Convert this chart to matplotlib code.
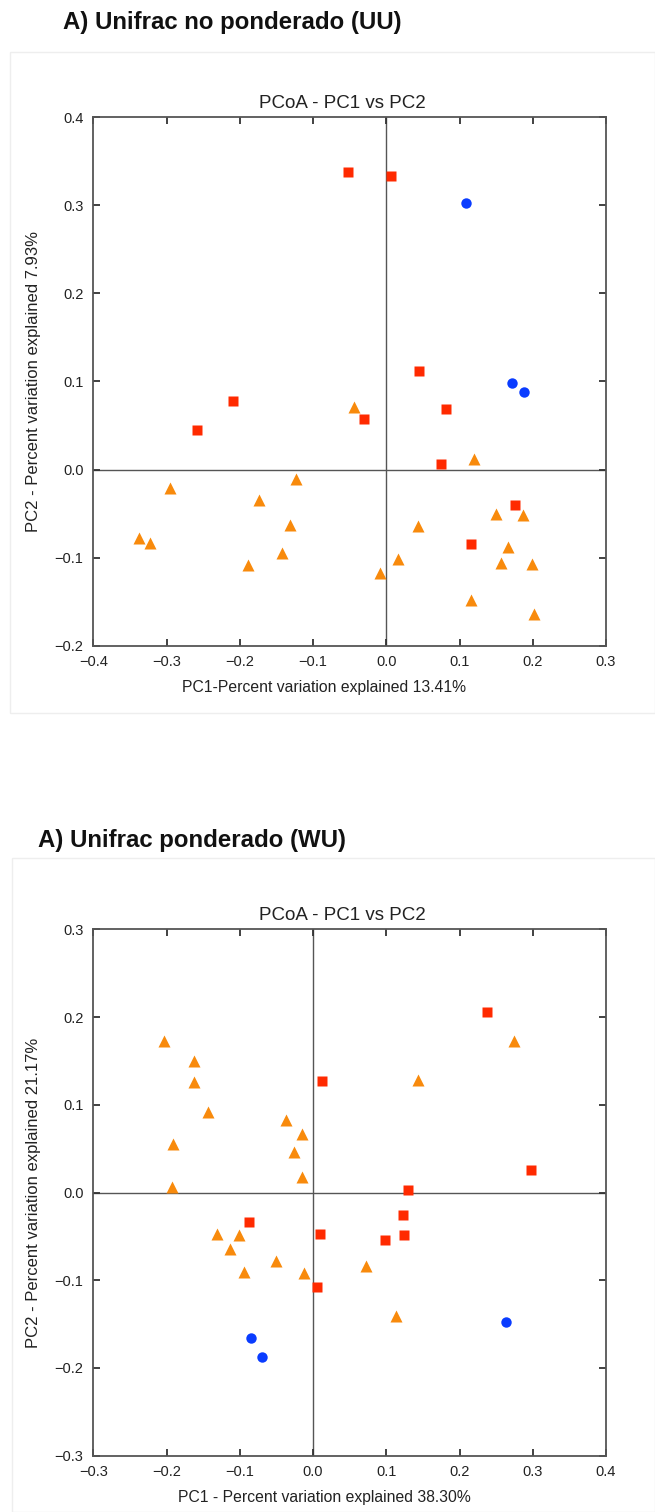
import matplotlib
matplotlib.use("Agg")
from matplotlib import pyplot as plt
from matplotlib.patches import Rectangle

# colours of the three sample groups
RED = "#ff2a00"
ORANGE = "#f88a0c"
BLUE = "#0a3cff"

# ---- A) Unifrac no ponderado (UU) ----
uu_sq_x = [-0.052, 0.007, 0.045, -0.209, -0.031, -0.258, 0.082, 0.075, 0.176, 0.115]
uu_sq_y = [0.338, 0.333, 0.112, 0.078, 0.057, 0.045, 0.069, 0.006, -0.040, -0.085]
uu_tri_x = [-0.044, 0.120, -0.295, -0.123, -0.174, -0.132, -0.337, -0.322, -0.142, -0.189,
            -0.009, 0.016, 0.044, 0.150, 0.187, 0.166, 0.156, 0.199, 0.116, 0.202]
uu_tri_y = [0.071, 0.012, -0.021, -0.011, -0.035, -0.063, -0.078, -0.083, -0.095, -0.108,
            -0.117, -0.102, -0.064, -0.051, -0.052, -0.088, -0.106, -0.107, -0.148, -0.164]
uu_dot_x = [0.109, 0.171, 0.188]
uu_dot_y = [0.303, 0.098, 0.088]

# ---- A) Unifrac ponderado (WU) ----
wu_sq_x = [0.238, 0.012, 0.297, 0.129, 0.123, -0.088, 0.009, 0.124, 0.098, 0.006]
wu_sq_y = [0.206, 0.127, 0.026, 0.003, -0.026, -0.034, -0.047, -0.048, -0.054, -0.108]
wu_tri_x = [0.274, -0.203, -0.162, -0.163, 0.144, -0.143, -0.037, -0.015, -0.191, -0.026,
            -0.015, -0.193, -0.131, -0.101, -0.114, -0.051, 0.072, -0.094, -0.012, 0.113]
wu_tri_y = [0.173, 0.173, 0.150, 0.126, 0.128, 0.092, 0.083, 0.067, 0.055, 0.046,
            0.018, 0.006, -0.047, -0.049, -0.064, -0.078, -0.084, -0.091, -0.092, -0.141]
wu_dot_x = [0.264, -0.085, -0.069]
wu_dot_y = [-0.148, -0.166, -0.187]

uu_xticks = [-0.4, -0.3, -0.2, -0.1, 0.0, 0.1, 0.2, 0.3]
uu_yticks = [-0.2, -0.1, 0.0, 0.1, 0.2, 0.3, 0.4]
wu_xticks = [-0.3, -0.2, -0.1, 0.0, 0.1, 0.2, 0.3, 0.4]
wu_yticks = [-0.3, -0.2, -0.1, 0.0, 0.1, 0.2, 0.3]

plt.rcParams["font.family"] = ["Liberation Sans", "DejaVu Sans"]

W, H = 655, 1512
fig = plt.figure(figsize=(W / 100, H / 100), dpi=100)


def px_rect(l, t, r, b):
    return [l / W, 1 - b / H, (r - l) / W, (b - t) / H]


def pcoa_panel(rect, sq, tri, dot, xticks, yticks, xlabel, ylabel, xlab_y, ylab_x):
    ax = fig.add_axes(rect)
    ax.axhline(0, color="#555555", lw=1.0, zorder=1)
    ax.axvline(0, color="#555555", lw=1.0, zorder=1)
    ax.plot(tri[0], tri[1], "^", color=ORANGE, ms=8.5, mec="none", zorder=3)
    ax.plot(sq[0], sq[1], "s", color=RED, ms=7.3, mec="none", zorder=3)
    ax.plot(dot[0], dot[1], "o", color=BLUE, ms=7.5, mec="none", zorder=3)
    ax.set_xlim(xticks[0], xticks[-1])
    ax.set_ylim(yticks[0], yticks[-1])
    ax.set_xticks(xticks)
    ax.set_yticks(yticks)
    ax.set_xticklabels([f"{v:.1f}".replace("-", "\u2212") for v in xticks])
    ax.set_yticklabels([f"{v:.1f}".replace("-", "\u2212") for v in yticks])
    ax.tick_params(direction="in", top=True, right=True, length=5, width=1.3,
                   color="#333333", labelsize=10.5, labelcolor="#222222", pad=7)
    for s in ax.spines.values():
        s.set_linewidth(1.3)
        s.set_color("#555555")
    ax.set_title("PCoA - PC1 vs PC2", fontsize=13.5, color="#222222", pad=7, x=0.485)
    ax.set_xlabel(xlabel, fontsize=11.3, color="#222222", va="center")
    ax.xaxis.set_label_coords(0.45, xlab_y)
    ax.set_ylabel(ylabel, fontsize=12, color="#222222", va="center")
    ax.yaxis.set_label_coords(ylab_x, 0.5)
    return ax


# faint frames around each embedded panel
fig.patches.append(Rectangle((10 / W, 1 - 713 / H), (W - 10) / W, (713 - 52) / H,
                             transform=fig.transFigure, fill=False, ec="#eeeeee", lw=1))
fig.patches.append(Rectangle((12 / W, 0), (W - 12) / W, (1512 - 858) / H,
                             transform=fig.transFigure, fill=False, ec="#eeeeee", lw=1))

fig.text(63 / W, 1 - 22 / H, "A) Unifrac no ponderado (UU)", fontsize=17.3,
         fontweight="bold", va="center", ha="left", color="#111111")
fig.text(38 / W, 1 - 841 / H, "A) Unifrac ponderado (WU)", fontsize=17.3,
         fontweight="bold", va="center", ha="left", color="#111111")

pcoa_panel(px_rect(93.3, 117.3, 606, 645.7),
           (uu_sq_x, uu_sq_y), (uu_tri_x, uu_tri_y), (uu_dot_x, uu_dot_y),
           uu_xticks, uu_yticks,
           "PC1-Percent variation explained 13.41%",
           "PC2 - Percent variation explained 7.93%",
           -0.080, -0.117)

pcoa_panel(px_rect(93.3, 929.3, 606, 1455.7),
           (wu_sq_x, wu_sq_y), (wu_tri_x, wu_tri_y), (wu_dot_x, wu_dot_y),
           wu_xticks, wu_yticks,
           "PC1 - Percent variation explained 38.30%",
           "PC2 - Percent variation explained 21.17%",
           -0.080, -0.117)

fig.savefig("out.png", dpi=100)
